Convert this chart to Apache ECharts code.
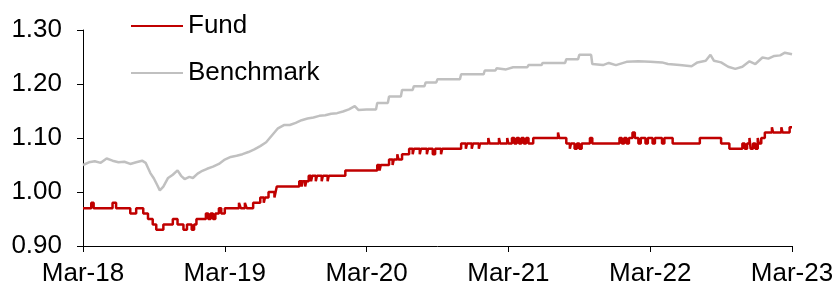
<!DOCTYPE html>
<html>
<head>
<meta charset="utf-8">
<script src="https://cdn.jsdelivr.net/npm/echarts@6/dist/echarts.min.js"></script>
<style>
  html, body { margin: 0; padding: 0; background: #fff; }
  #chart { width: 836px; height: 290px; }
</style>
</head>
<body>
<div id="chart"></div>
<script>
// x = months since Mar-18
var xLabels = ['Mar-18', 'Mar-19', 'Mar-20', 'Mar-21', 'Mar-22', 'Mar-23'];
var yTicks = ['0.90', '1.00', '1.10', '1.20', '1.30'];

// fund NAV, change points (held until next point)
var fund = [
	[0, 0.97], [0.7, 0.98], [0.9, 0.97], [2.5, 0.98], [2.8, 0.97], [4.0, 0.96], [4.5, 0.97],
	[5.1, 0.96], [5.5, 0.95], [5.9, 0.94], [6.2, 0.93], [6.8, 0.94], [7.6, 0.95], [8.0, 0.94],
	[8.5, 0.93], [8.8, 0.94], [9.2, 0.93], [9.4, 0.94], [9.6, 0.95], [10.4, 0.96], [10.6, 0.95],
	[10.8, 0.96], [11.0, 0.95], [11.2, 0.96], [11.5, 0.97], [11.7, 0.96], [12.0, 0.97],
	[13.2, 0.98], [13.35, 0.97], [13.7, 0.98], [13.85, 0.97], [14.4, 0.98], [15.0, 0.99],
	[15.3, 0.98], [15.4, 0.99], [15.7, 1.00], [16.2, 0.99], [16.3, 1.00], [16.4, 1.01],
	[18.3, 1.02], [18.5, 1.01], [18.6, 1.02], [18.8, 1.01], [18.9, 1.02], [19.1, 1.03],
	[19.3, 1.02], [19.4, 1.03], [19.7, 1.02], [19.8, 1.03], [20.2, 1.02], [20.3, 1.03],
	[20.7, 1.02], [20.8, 1.03], [22.2, 1.04], [24.9, 1.05], [25.1, 1.04], [25.2, 1.05],
	[25.9, 1.06], [26.2, 1.05], [26.3, 1.06], [26.6, 1.07], [26.7, 1.06], [27.0, 1.07],
	[27.6, 1.08], [27.9, 1.07], [28.0, 1.08], [28.5, 1.07], [28.6, 1.08], [29.1, 1.07],
	[29.2, 1.08], [29.6, 1.07], [29.8, 1.08], [30.3, 1.07], [30.4, 1.08], [32.0, 1.09],
	[32.4, 1.08], [32.5, 1.09], [32.9, 1.08], [33.0, 1.09], [33.5, 1.08], [33.6, 1.09],
	[34.3, 1.10], [34.4, 1.09], [35.2, 1.10], [35.3, 1.09], [35.9, 1.10], [36.0, 1.09],
	[36.3, 1.10], [36.5, 1.09], [36.7, 1.10], [36.9, 1.09], [37.1, 1.10], [37.3, 1.09],
	[37.5, 1.10], [37.7, 1.09], [38.1, 1.10], [40.2, 1.11], [40.3, 1.10], [40.9, 1.09],
	[41.2, 1.08], [41.3, 1.09], [41.6, 1.08], [41.8, 1.09], [42.0, 1.08], [42.2, 1.09],
	[42.9, 1.10], [43.1, 1.09], [45.4, 1.10], [45.6, 1.09], [45.8, 1.10], [46.0, 1.09],
	[46.2, 1.10], [46.5, 1.11], [46.7, 1.10], [47.0, 1.09], [47.2, 1.10], [47.6, 1.09],
	[47.8, 1.10], [48.2, 1.09], [48.4, 1.10], [49.0, 1.09], [49.2, 1.10], [49.9, 1.09],
	[52.2, 1.10], [54.0, 1.09], [54.7, 1.08], [55.8, 1.09], [56.0, 1.08], [56.2, 1.09],
	[56.4, 1.10], [56.5, 1.08], [56.7, 1.09], [56.9, 1.08], [57.1, 1.10], [57.2, 1.09],
	[57.4, 1.10], [57.7, 1.11], [58.3, 1.12], [58.4, 1.11], [59.1, 1.12], [59.2, 1.11],
	[59.8, 1.12], [60, 1.12]
];

// benchmark index
var bench = [
	[0, 1.050], [0.5, 1.055], [1, 1.057], [1.5, 1.054], [2, 1.062], [2.5, 1.058], [3, 1.055],
	[3.5, 1.056], [4, 1.052], [4.5, 1.055], [5, 1.058], [5.3, 1.054], [5.7, 1.035], [6, 1.025],
	[6.3, 1.012], [6.5, 1.003], [6.8, 1.010], [7.2, 1.026], [7.6, 1.032], [8, 1.040],
	[8.3, 1.030], [8.6, 1.024], [9, 1.028], [9.3, 1.026], [9.7, 1.034], [10, 1.038],
	[10.5, 1.043], [11, 1.047], [11.5, 1.052], [12, 1.060], [12.5, 1.065], [13, 1.067],
	[13.5, 1.070], [14, 1.074], [14.5, 1.079], [15, 1.085], [15.5, 1.092], [16, 1.105],
	[16.5, 1.118], [17, 1.124], [17.5, 1.124], [18, 1.128], [18.5, 1.133], [19, 1.136],
	[19.5, 1.138], [20, 1.141], [20.5, 1.142], [21, 1.145], [21.5, 1.146], [22, 1.149],
	[22.5, 1.153], [23, 1.159], [23.3, 1.152], [24, 1.153], [24.8, 1.153], [24.9, 1.165],
	[25.8, 1.165], [25.9, 1.177], [26.9, 1.177], [27, 1.189], [27.9, 1.189], [28, 1.196],
	[28.9, 1.196], [29, 1.203], [29.9, 1.203], [30, 1.209], [31.9, 1.209], [32, 1.218],
	[33.9, 1.218], [34, 1.225], [34.9, 1.225], [35, 1.229], [35.8, 1.227], [36.4, 1.231],
	[37.6, 1.231], [37.7, 1.235], [38.8, 1.235], [38.9, 1.239], [40.8, 1.239], [40.9, 1.246],
	[41.9, 1.246], [42, 1.254], [43, 1.254], [43.1, 1.237], [44, 1.235], [44.5, 1.239],
	[45.1, 1.235], [46, 1.241], [47, 1.242], [48, 1.241], [49, 1.240], [49.5, 1.237],
	[50.5, 1.235], [51.5, 1.233], [52, 1.240], [52.7, 1.243], [53.1, 1.254], [53.4, 1.243],
	[54, 1.240], [54.6, 1.232], [55.2, 1.228], [55.8, 1.232], [56.4, 1.242], [56.9, 1.237],
	[57.5, 1.249], [58, 1.247], [58.5, 1.252], [59, 1.253], [59.4, 1.258], [60, 1.255]
];

var chart = echarts.init(document.getElementById('chart'));
var font = 'Liberation Sans, Arial, sans-serif';

option = {
	animation: false,
	textStyle: { fontFamily: font },
	grid: {
		left: 83,
		right: 44,
		top: 30,
		bottom: 44,
		outerBoundsMode: 'none'
	},
	legend: {
		orient: 'vertical',
		left: 131,
		top: 13,
		padding: 0,
		itemWidth: 52,
		itemHeight: 2,
		itemGap: 21,
		icon: 'rect',
		textStyle: { fontSize: 26, color: '#000', fontFamily: font },
		data: ['Fund', 'Benchmark']
	},
	xAxis: {
		type: 'value',
		min: 0,
		max: 60,
		interval: 12,
		axisLine: { lineStyle: { color: '#000', width: 1 } },
		axisTick: { show: true, length: 6, lineStyle: { color: '#000' } },
		splitLine: { show: false },
		axisLabel: {
			fontSize: 26,
			color: '#000',
			margin: 15,
			showMinLabel: true,
			showMaxLabel: true,
			formatter: function(v) {
				return xLabels[Math.round(v / 12)];
			}
		}
	},
	yAxis: {
		type: 'value',
		min: 0.9,
		max: 1.3,
		interval: 0.1,
		axisLine: { show: true, lineStyle: { color: '#000', width: 1 } },
		axisTick: { show: true, length: 6, lineStyle: { color: '#000' } },
		splitLine: { show: false },
		axisLabel: {
			fontSize: 26,
			color: '#000',
			margin: 21,
			formatter: function(v) {
				return yTicks[Math.round((v - 0.9) * 10)];
			}
		}
	},
	series: [
		{
			name: 'Benchmark',
			type: 'line',
			data: bench,
			symbol: 'none',
			itemStyle: { color: '#C0C0C0' },
			lineStyle: { color: '#C0C0C0', width: 2.5 },
			z: 2
		},
		{
			name: 'Fund',
			type: 'line',
			data: fund,
			step: 'end',
			symbol: 'none',
			itemStyle: { color: '#C00000' },
			lineStyle: { color: '#C00000', width: 2.5 },
			z: 3
		}
	]
};

chart.setOption(option);
</script>
</body>
</html>
